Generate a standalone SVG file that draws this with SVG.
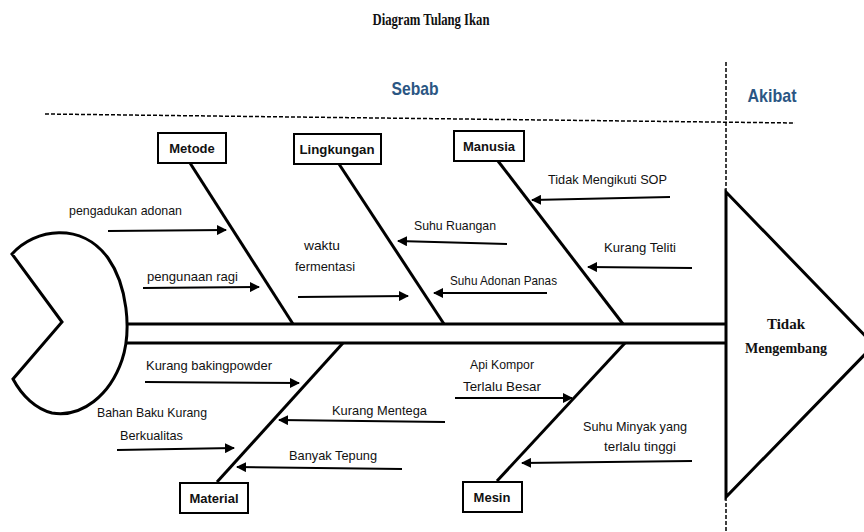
<svg xmlns="http://www.w3.org/2000/svg" width="864" height="532" viewBox="0 0 864 532">
<style>
.t{font-family:"Liberation Sans",Arial,sans-serif;font-size:13.5px;fill:#111}
.b{font-family:"Liberation Sans",Arial,sans-serif;font-size:13px;font-weight:bold;fill:#111;text-anchor:middle}
.s{font-family:"Liberation Serif","Times New Roman",serif;font-weight:bold;fill:#111}
.h{font-family:"Liberation Sans",Arial,sans-serif;font-weight:bold;font-size:19px;fill:#2B5683}
.ln{stroke:#000;stroke-width:3;fill:none}
.bx{fill:#fff;stroke:#000;stroke-width:2}
.ar{stroke:#000;stroke-width:2;fill:none;marker-end:url(#ah)}
.d{stroke:#000;stroke-width:1.5;fill:none;stroke-dasharray:4 2}
</style>
<defs>
<marker id="ah" viewBox="0 0 10 10" refX="9" refY="5" markerWidth="5" markerHeight="5" orient="auto" markerUnits="strokeWidth">
<path d="M0,0 L10,5 L0,10 Z" fill="#000"/>
</marker>
</defs>
<rect width="864" height="532" fill="#fff"/>
<text class="s" x="431" y="25" font-size="16" text-anchor="middle" textLength="117" lengthAdjust="spacingAndGlyphs">Diagram Tulang Ikan</text>
<text class="h" x="415" y="95" text-anchor="middle" textLength="47" lengthAdjust="spacingAndGlyphs">Sebab</text>
<text class="h" x="772" y="102" text-anchor="middle" textLength="49" lengthAdjust="spacingAndGlyphs">Akibat</text>
<g id="dividers">
<line class="d" x1="45" y1="114" x2="795" y2="123"/>
<line class="d" x1="726" y1="62" x2="726" y2="192"/>
<line class="d" x1="726" y1="497" x2="726" y2="532"/>
</g>
<g id="tail">
<path class="ln" d="M12,254 C35,228 82,222 108,258 C127,285 132,330 122,360 C110,395 82,418 52,413 C36,409 22,396 13,379 L62,322 Z"/>
</g>
<g id="spine">
<line class="ln" x1="127" y1="324" x2="726" y2="324"/>
<line class="ln" x1="127" y1="343" x2="726" y2="343"/>
</g>
<g id="head">
<path class="ln" d="M726,192 L874,345 L726,497 Z"/>
<text class="s" x="786" y="329" font-size="15" text-anchor="middle">Tidak</text>
<text class="s" x="786" y="353" font-size="15" text-anchor="middle" textLength="82" lengthAdjust="spacingAndGlyphs">Mengembang</text>
</g>
<g id="bones">
<line class="ln" x1="190" y1="163" x2="293" y2="324"/>
<line class="ln" x1="339" y1="164" x2="444" y2="324"/>
<line class="ln" x1="498" y1="161" x2="623" y2="324"/>
<line class="ln" x1="343" y1="343" x2="217" y2="482"/>
<line class="ln" x1="625" y1="343" x2="497" y2="481"/>
</g>
<g id="metode">
<rect class="bx" x="158" y="133" width="68" height="30"/>
<text class="b" x="192" y="153">Metode</text>
</g>
<g id="lingkungan">
<rect class="bx" x="294" y="134" width="87" height="30"/>
<text class="b" x="337" y="154" textLength="75" lengthAdjust="spacingAndGlyphs">Lingkungan</text>
</g>
<g id="manusia">
<rect class="bx" x="454" y="131" width="70" height="30"/>
<text class="b" x="489" y="151">Manusia</text>
</g>
<g id="material">
<rect class="bx" x="180" y="483" width="68" height="30"/>
<text class="b" x="214" y="503">Material</text>
</g>
<g id="mesin">
<rect class="bx" x="463" y="482" width="59" height="30"/>
<text class="b" x="492" y="502">Mesin</text>
</g>
<g id="causes">
<text class="t" x="69" y="215" textLength="113" lengthAdjust="spacingAndGlyphs">pengadukan adonan</text>
<text class="t" x="147" y="281" textLength="91" lengthAdjust="spacingAndGlyphs">pengunaan ragi</text>
<text class="t" x="322" y="250" text-anchor="middle" textLength="36" lengthAdjust="spacingAndGlyphs">waktu</text>
<text class="t" x="295" y="271" textLength="60" lengthAdjust="spacingAndGlyphs">fermentasi</text>
<text class="t" x="414" y="230" textLength="82" lengthAdjust="spacingAndGlyphs">Suhu Ruangan</text>
<text class="t" x="450" y="285" textLength="107" lengthAdjust="spacingAndGlyphs">Suhu Adonan Panas</text>
<text class="t" x="548" y="184" textLength="119" lengthAdjust="spacingAndGlyphs">Tidak Mengikuti SOP</text>
<text class="t" x="604" y="252" textLength="72" lengthAdjust="spacingAndGlyphs">Kurang Teliti</text>
<text class="t" x="146" y="370" textLength="126" lengthAdjust="spacingAndGlyphs">Kurang bakingpowder</text>
<text class="t" x="97" y="417" textLength="110" lengthAdjust="spacingAndGlyphs">Bahan Baku Kurang</text>
<text class="t" x="120" y="440" textLength="63" lengthAdjust="spacingAndGlyphs">Berkualitas</text>
<text class="t" x="332" y="415" textLength="95" lengthAdjust="spacingAndGlyphs">Kurang Mentega</text>
<text class="t" x="289" y="460" textLength="88" lengthAdjust="spacingAndGlyphs">Banyak Tepung</text>
<text class="t" x="502" y="369" text-anchor="middle" textLength="64" lengthAdjust="spacingAndGlyphs">Api Kompor</text>
<text class="t" x="502" y="391" text-anchor="middle" textLength="78" lengthAdjust="spacingAndGlyphs">Terlalu Besar</text>
<text class="t" x="635" y="431" text-anchor="middle" textLength="104" lengthAdjust="spacingAndGlyphs">Suhu Minyak yang</text>
<text class="t" x="640" y="451" text-anchor="middle" textLength="72" lengthAdjust="spacingAndGlyphs">terlalu tinggi</text>
</g>
<g id="connectors">
<line class="ar" x1="108" y1="231" x2="226" y2="230"/>
<line class="ar" x1="143" y1="288" x2="259" y2="287"/>
<line class="ar" x1="298" y1="297" x2="408" y2="296"/>
<line class="ar" x1="507" y1="244" x2="398" y2="241"/>
<line class="ar" x1="547" y1="293" x2="434" y2="293"/>
<line class="ar" x1="670" y1="197" x2="532" y2="200"/>
<line class="ar" x1="692" y1="268" x2="588" y2="267"/>
<line class="ar" x1="145" y1="382" x2="299" y2="383"/>
<line class="ar" x1="117" y1="450" x2="234" y2="448"/>
<line class="ar" x1="445" y1="422" x2="279" y2="420"/>
<line class="ar" x1="402" y1="469" x2="237" y2="467"/>
<line class="ar" x1="455" y1="398" x2="572" y2="398"/>
<line class="ar" x1="692" y1="461" x2="522" y2="463"/>
</g>
</svg>
